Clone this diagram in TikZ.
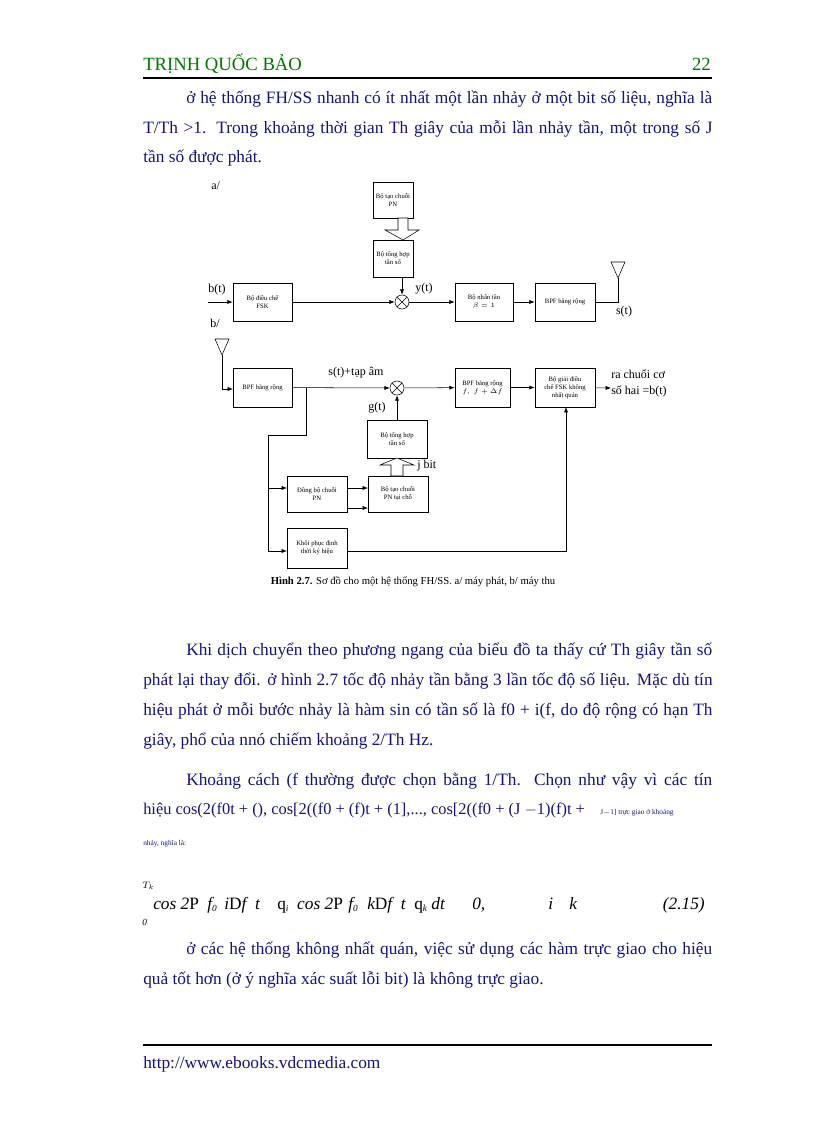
\documentclass[tikz,border=0pt]{standalone}
\usepackage{fontspec}
\setmainfont{Liberation Serif}
\usetikzlibrary{arrows.meta}
\definecolor{bodyc}{RGB}{20,20,120}
\definecolor{headc}{RGB}{0,120,0}
\newcommand{\jline}[1]{\hbox to 427pt{#1}}
\newcommand{\iline}[1]{\hbox to 394.5pt{#1}}
\begin{document}
\begin{tikzpicture}[x=0.75pt,y=-0.75pt,
  box/.style={draw,thin,align=center,inner sep=1pt,font=\fontsize{5}{6}\selectfont},
  arr/.style={-{Latex[length=4pt,width=3pt]},thin},
  ln/.style={thin},
  bt/.style={anchor=base west,inner sep=0pt,font=\fontsize{13}{15}\selectfont,text=bodyc},
  lbl/.style={inner sep=0pt,font=\fontsize{9}{10}\selectfont},
  hollow/.style={draw,fill=white,thin}]
\useasboundingbox (0,0) rectangle (816,1123);
% header
\node[anchor=base west,inner sep=0pt,text=headc,font=\fontsize{14}{16}\selectfont] (hd) at (143,71) {TRỊNH QUỐC BẢO};
\node[anchor=base east,inner sep=0pt,text=headc,font=\fontsize{14}{16}\selectfont] (pg) at (711,71) {22};
\draw[line width=1.5pt] (143,78) -- (712,78);
\node[bt] (l1) at (186,104) {\iline{ở hệ thống FH/SS nhanh có ít nhất một lần nhảy ở một bit số liệu, nghĩa là}};
\node[bt] (l2) at (143,134) {\jline{T/Th >1. Trong khoảng thời gian Th giây của mỗi lần nhảy tần, một trong số J}};
\node[bt] (l3) at (143,163) {tần số được phát.};
% ===== transmitter
\node[lbl,anchor=west] (a) at (211,186) {a/};
\node[box,minimum width=30pt,minimum height=27pt] (pn1) at (393,200) {Bộ tạo chuỗi\\PN};
\node[box,minimum width=30pt,minimum height=27.75pt] (th1) at (393,258.5) {Bộ tổng hợp\\tần số};
\draw[hollow] (398,218)--(408,218)--(408,230)--(419,230)--(403,240)--(385,230)--(398,230)--cycle;
\node[box,minimum width=44.25pt,minimum height=28.5pt] (fsk) at (262.5,302) {Bộ điều chế\\FSK};
\node[draw,circle,thin,minimum size=10.5pt,inner sep=0pt] (m1) at (402,302) {};
\draw[thin] (m1.north west)--(m1.south east) (m1.north east)--(m1.south west);
\node[box,minimum width=43.5pt,minimum height=28.5pt] (nt) at (484,302) {Bộ nhân tần\\$\beta=1$};
\node[box,minimum width=45pt,minimum height=28.5pt] (bpf1) at (565,302) {BPF băng rộng};
\coordinate (bin) at (208,302);
\node[lbl,anchor=west] (bt) at (208,290) {b(t)};
\draw[arr] (bin) -- (fsk);
\draw[arr] (fsk) -- (m1);
\draw[arr] (m1) -- (nt);
\draw[arr] (nt) -- (bpf1);
\draw[arr] (402,277) -- (m1);
\node[lbl] (yt) at (424,289) {y(t)};
\coordinate (ant1) at (618,278);
\draw[ln] (bpf1.east) -- (618,302) -- (ant1);
\draw[thin] (ant1) -- (611,262) -- (625,262) -- cycle;
\node[lbl] (st) at (624,312) {s(t)};
\node[lbl,anchor=west] (b) at (210,323) {b/};
% ===== receiver
\coordinate (ant2) at (222,355);
\draw[thin] (ant2) -- (215,339) -- (229,339) -- cycle;
\node[box,minimum width=44.25pt,minimum height=29.25pt] (bpf2) at (262.5,387.5) {BPF băng rộng};
\draw[arr] (ant2) -- (222,389) -- (233,389);
\node[draw,circle,thin,minimum size=10.5pt,inner sep=0pt] (m2) at (397,388) {};
\draw[thin] (m2.north west)--(m2.south east) (m2.north east)--(m2.south west);
\node[lbl] (stn) at (356,373) {s(t)+tạp âm};
\node[lbl] (gt) at (377,408) {g(t)};
\node[box,minimum width=41.25pt,minimum height=29.25pt] (bpf3) at (482.5,387.5) {BPF băng rộng\\$f,\ f+\Delta f$};
\node[box,minimum width=45pt,minimum height=29.25pt] (dem) at (565,387.5) {Bộ giải điều\\chế FSK không\\nhất quán};
\coordinate (out) at (611,388);
\node[lbl,anchor=west,align=left] (ra) at (611,383) {ra chuổi cơ\\[2pt]số hai =b(t)};
\draw[arr] (bpf2) -- (m2);
\draw[arr] (m2) -- (bpf3);
\draw[arr] (bpf3) -- (dem);
\draw[arr] (dem) -- (out);
\node[box,minimum width=45pt,minimum height=28.5pt] (th2) at (397,439) {Bộ tổng hợp\\tần số};
\draw[arr] (th2) -- (m2);
\node[box,minimum width=45pt,minimum height=27pt] (db) at (317,494) {Đồng bộ chuỗi\\PN};
\node[box,minimum width=45pt,minimum height=27pt] (tpn) at (398,494) {Bộ tạo chuỗi\\PN tại chỗ};
\draw[hollow] (391,476)--(391,465)--(380,465)--(397,458)--(414,465)--(403,465)--(403,476)--cycle;
\node[lbl,anchor=west] (jb) at (417,466) {j bit};
\node[box,minimum width=45pt,minimum height=30pt] (kp) at (317,548) {Khôi phục định\\thời ký hiệu};
\draw[ln] (306,388) -- (306,435) -- (268,435) -- (268,551);
\draw[arr] (268,488) -- (287,488);
\draw[arr] (268,551) -- (287,551);
\draw[arr] (347,488) -- (368,488);
\draw[arr] (347,508) -- (368,508);
\draw[arr] (347,551) -- (566,551) -- (566,407);
\node[inner sep=0pt,font=\fontsize{8}{9}\selectfont] (cap) at (413,582) {\textbf{Hình 2.7.} Sơ đồ cho một hệ thống FH/SS. a/ máy phát, b/ máy thu};
% ===== text below
\node[bt] (p1) at (186,655) {\iline{Khi dịch chuyển theo phương ngang của biểu đồ ta thấy cứ Th giây tần số}};
\node[bt] (p2) at (143,685) {\jline{phát lại thay đổi. ở hình 2.7 tốc độ nhảy tần bằng 3 lần tốc độ số liệu. Mặc dù tín}};
\node[bt] (p3) at (143,715) {\jline{hiệu phát ở mỗi bước nhảy là hàm sin có tần số là f0 + i(f, do độ rộng có hạn Th}};
\node[bt] (p4) at (143,745) {giây, phổ của nnó chiếm khoảng 2/Th Hz.};
\node[bt] (p5) at (186,785) {\iline{Khoảng cách (f thường được chọn bằng 1/Th. Chọn như vậy vì các tín}};
\node[bt,font=\fontsize{12.3}{15}\selectfont] (p6) at (143,814) {hiệu cos(2(f0t + (), cos[2((f0 + (f)t + (1],..., cos[2((f0 + (J $-$1)(f)t +};
\node[anchor=base west,inner sep=0pt,text=bodyc,font=\fontsize{5.5}{6}\selectfont] (p6b) at (600,814) {J$-$1] trực giao ở khoảng};
\node[anchor=base west,inner sep=0pt,text=bodyc,font=\fontsize{5.5}{6}\selectfont] (p7) at (143,845) {nháy, nghĩa là:};
% equation
\begin{scope}[every node/.style={anchor=base west,inner sep=0pt,font=\fontsize{13}{15}\selectfont\itshape}]
\node (tk) at (142,888) {\fontsize{7}{8}\selectfont $T_k$};
\node (z0) at (142,925) {\fontsize{7}{8}\selectfont 0};
\node (e1) at (153,909) {cos 2\upshape P};
\node (e2) at (207,909) {f\raisebox{-2pt}{\fontsize{7}{8}\selectfont 0}};
\node (e3) at (224,909) {i\upshape D\itshape f\ \ t};
\node (e4) at (277,909) {\upshape q\raisebox{-2pt}{\fontsize{7}{8}\selectfont\itshape i}\ \ \itshape cos 2\upshape P};
\node (e5) at (348,909) {f\raisebox{-2pt}{\fontsize{7}{8}\selectfont 0}};
\node (e6) at (367,909) {k\upshape D\itshape f\ \ t};
\node (e7) at (414,909) {\upshape q\raisebox{-2pt}{\fontsize{7}{8}\selectfont\itshape k}\ \itshape dt};
\node (e8) at (472,909) {0,};
\node (e9) at (548,909) {i};
\node (e10) at (569,909) {k};
\node[anchor=base east] (e11) at (705,909) {(2.15)};
\end{scope}
\node[bt] (q1) at (186,954) {\iline{ở các hệ thống không nhất quán, việc sử dụng các hàm trực giao cho hiệu}};
\node[bt] (q2) at (143,984) {quả tốt hơn (ở ý nghĩa xác suất lỗi bit) là không trực giao.};
% footer
\draw[line width=1.5pt] (143,1045) -- (712,1045);
\node[anchor=base west,inner sep=0pt,text=bodyc,font=\fontsize{13}{15}\selectfont] (url) at (143,1068) {http://www.ebooks.vdcmedia.com};
\end{tikzpicture}
\end{document}
